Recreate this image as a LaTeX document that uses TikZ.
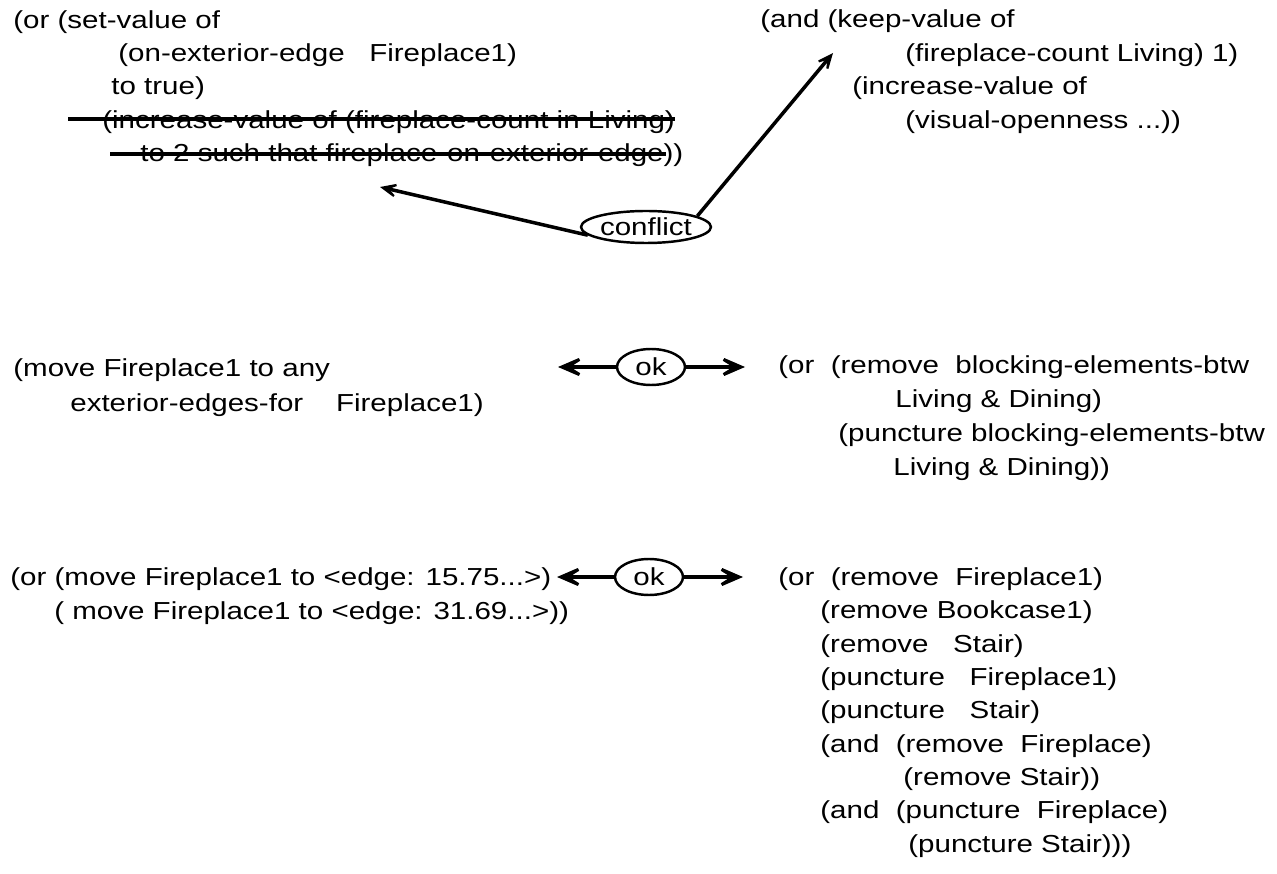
\documentclass[tikz,border=0pt]{standalone}
\usepackage{fontspec}
\setmainfont{Liberation Sans}[FakeStretch=1.2]
\usetikzlibrary{arrows.meta,shapes.geometric}
\begin{document}
\begin{tikzpicture}[x=0.02cm, y=-0.02cm,
  txt/.style={anchor=base west, inner sep=0pt, font=\fontsize{14}{17}\selectfont},
  verdict/.style={draw, ellipse, line width=1.4pt, inner sep=0pt, font=\fontsize{14}{17}\selectfont},
  link/.style={line width=2pt, -{Stealth[length=22pt, width=19pt, inset=15pt]}},
  hint/.style={line width=2pt, -{Stealth[length=16pt, width=14pt, inset=11pt]}},
  strike/.style={line width=2pt}]
  \useasboundingbox (0,0) rectangle (1277,874);
  % top row
  \foreach \n/\x/\y/\t in {tl1/13/29/{(or (set-value of}, tl2/118/62/{(on-exterior-edge\ \ \ Fireplace1)},
      tl3/111/95/{to true)}, tl4/102/129/{(increase-value of (fireplace-count in Living)},
      tl5/140/162/{to 2 such that fireplace-on-exterior-edge))},
      tr1/760/28/{(and (keep-value of}, tr2/905/62/{(fireplace-count Living) 1)},
      tr3/852/95/{(increase-value of}, tr4/905/129/{(visual-openness ...))}}
    \node[txt] (\n) at (\x,\y) {\t};
  \draw[strike] (68,119) -- (tl4.east |- 0,119);
  \draw[strike] (110,154) -- ([xshift=-10]tl5.east |- 0,154);
  \node[verdict, minimum width=2.36cm, minimum height=0.64cm] (conflict) at (646,227) {conflict};
  \coordinate (hitL) at (380,187); \coordinate (hitR) at (833,53);
  \draw[hint] (conflict.188) -- (hitL); \draw[hint] (conflict.12) -- (hitR);
  % middle row
  \foreach \n/\x/\y/\t in {ml1/13/377/{(move Fireplace1 to any}, ml2/70/412/{exterior-edges-for\ \ \ \ Fireplace1)},
      mr1/778/374/{(or\ \ (remove\ \ blocking-elements-btw}, mr2/895/408/{Living \& Dining)},
      mr3/838/441/{(puncture blocking-elements-btw}, mr4/893/475/{Living \& Dining))}}
    \node[txt] (\n) at (\x,\y) {\t};
  \node[verdict, minimum width=1.36cm, minimum height=0.72cm] (ok1) at (651,367) {ok};
  \coordinate (okL1) at (558,367); \coordinate (okR1) at (745,367);
  \draw[link] (ok1) -- (okL1); \draw[link] (ok1) -- (okR1);
  % bottom row
  \foreach \n/\x/\y/\t in {bl1/10/585/{(or (move Fireplace1 to <edge: 15.75...>)},
      bl2/54/619/{( move Fireplace1 to <edge: 31.69...>))},
      br1/778/585/{(or\ \ (remove\ \ Fireplace1)}, br2/820/618/{(remove Bookcase1)},
      br3/820/652/{(remove\ \ \ Stair)}, br4/820/685/{(puncture\ \ \ Fireplace1)},
      br5/820/718/{(puncture\ \ \ Stair)}, br6/820/752/{(and\ \ (remove\ \ Fireplace)},
      br7/903/785/{(remove Stair))}, br8/820/818/{(and\ \ (puncture\ \ Fireplace)},
      br9/908/852/{(puncture Stair)))}}
    \node[txt] (\n) at (\x,\y) {\t};
  \node[verdict, minimum width=1.36cm, minimum height=0.72cm] (ok2) at (649,577) {ok};
  \coordinate (okL2) at (557,577); \coordinate (okR2) at (743,577);
  \draw[link] (ok2) -- (okL2); \draw[link] (ok2) -- (okR2);
\end{tikzpicture}
\end{document}
